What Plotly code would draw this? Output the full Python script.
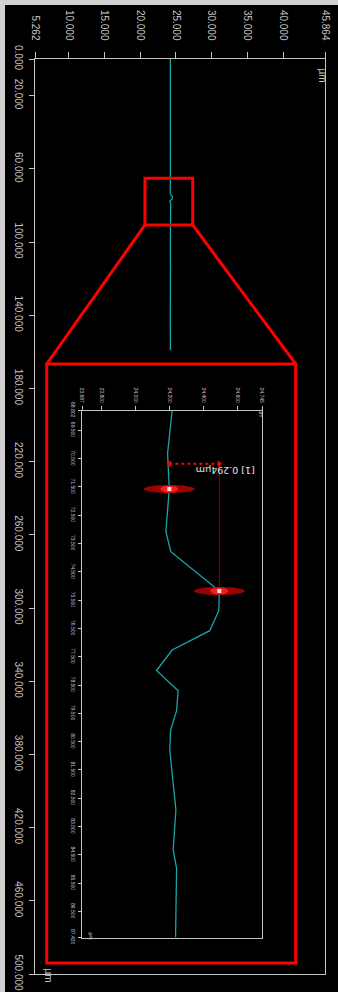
import plotly.graph_objects as go

W, H = 338, 992

# ---- full profile (position along the scan line, height) ----
inset_pos = [68.802, 70.314, 71.575, 73.084, 73.790, 75.179, 75.875, 76.581, 77.263,
             77.987, 78.701, 79.407, 80.089, 80.796, 82.916, 84.329, 84.975, 87.420]
inset_h = [24.217, 24.190, 24.200, 24.180, 24.209, 24.494, 24.491, 24.438, 24.217,
           24.125, 24.252, 24.243, 24.208, 24.203, 24.239, 24.223, 24.243, 24.237]

pre_pos = [0, 8, 16, 24, 32, 36, 40, 48, 56, 62, 66]
pre_h = [24.21, 24.22, 24.20, 24.22, 24.20, 24.24, 24.21, 24.22, 24.20, 24.21, 24.22]
post_pos = [90, 96, 104, 112, 120, 128, 136, 144, 152, 159]
post_h = [24.22, 24.20, 24.21, 24.23, 24.20, 24.22, 24.21, 24.20, 24.22, 24.21]

profile_pos = pre_pos + inset_pos + post_pos
profile_h = pre_h + inset_h + post_h

# main axes
main_h_range = [5.262, 45.864]
main_pos_range = [0.0, 500.0]
main_h_ticks = [5.262, 10, 15, 20, 25, 30, 35, 40, 45.864]
main_pos_ticks = [0, 20, 60, 100, 140, 180, 220, 260, 300, 340, 380, 420, 460, 500]

# zoomed axes
inset_h_range = [23.687, 24.745]
inset_pos_range = [68.802, 87.420]
inset_h_ticks = [23.687, 23.8, 24.0, 24.2, 24.4, 24.6, 24.745]
inset_pos_ticks = [68.802, 69.5, 70.5, 71.5, 72.5, 73.5, 74.5, 75.5, 76.5, 77.5,
                   78.5, 79.5, 80.5, 81.5, 82.5, 83.5, 84.5, 85.5, 86.5, 87.420]

# zoom window drawn on the main view
zoom_h = [20.66, 27.34]
zoom_pos = [65.2, 90.7]

# measurement cursors
cursor_pos = [71.575, 75.179]
cursor_h = [24.200, 24.494]
measure_line_pos = 70.685

GRAY = "#c4c4c4"
TEAL = "#19a5aa"
RED = "#ff0000"


def px(x):
    return x / W


def py(y):
    return 1 - y / H


main_x_dom = [px(35), px(325)]
main_y_dom = [py(974), py(59)]
ins_x_dom = [px(82), px(262)]
ins_y_dom = [py(937.5), py(410.5)]


def main_to_paper(h, p):
    fx = (h - main_h_range[0]) / (main_h_range[1] - main_h_range[0])
    fy = (p - main_pos_range[0]) / (main_pos_range[1] - main_pos_range[0])
    return (main_x_dom[0] + fx * (main_x_dom[1] - main_x_dom[0]),
            main_y_dom[1] - fy * (main_y_dom[1] - main_y_dom[0]))


fig = go.Figure()

fig.add_trace(go.Scatter(x=profile_h, y=profile_pos, mode="lines",
                         line=dict(color=TEAL, width=1.3), xaxis="x", yaxis="y",
                         hoverinfo="skip"))
fig.add_trace(go.Scatter(x=inset_h, y=inset_pos, mode="lines",
                         line=dict(color=TEAL, width=1.3), xaxis="x2", yaxis="y2",
                         hoverinfo="skip"))

# measurement: vertical guide from second cursor, dotted span with arrowheads
fig.add_trace(go.Scatter(x=[cursor_h[1], cursor_h[1]], y=[cursor_pos[1], measure_line_pos],
                         mode="lines", line=dict(color="#8a0000", width=1),
                         xaxis="x2", yaxis="y2", hoverinfo="skip"))
fig.add_trace(go.Scatter(x=cursor_h, y=[measure_line_pos] * 2, mode="lines",
                         line=dict(color=RED, width=2, dash="dot"),
                         xaxis="x2", yaxis="y2", hoverinfo="skip"))
fig.add_trace(go.Scatter(x=cursor_h, y=[measure_line_pos] * 2, mode="markers",
                         marker=dict(symbol=["triangle-left", "triangle-right"], size=6,
                                     color=RED, line=dict(width=0)),
                         xaxis="x2", yaxis="y2", hoverinfo="skip"))

shapes = []
# window frame strips
shapes.append(dict(type="rect", xref="paper", yref="paper", x0=0, x1=px(5), y0=0, y1=1,
                   fillcolor="#d0d0d0", line=dict(width=0), layer="below"))
shapes.append(dict(type="rect", xref="paper", yref="paper", x0=0, x1=1, y0=py(5), y1=1,
                   fillcolor="#d0d0d0", line=dict(width=0), layer="below"))

# zoom window on the main profile
zx0, zy0 = main_to_paper(zoom_h[0], zoom_pos[0])
zx1, zy1 = main_to_paper(zoom_h[1], zoom_pos[1])
shapes.append(dict(type="rect", xref="paper", yref="paper", x0=zx0, x1=zx1, y0=zy1, y1=zy0,
                   line=dict(color=RED, width=3)))
big = dict(x0=px(46.7), x1=px(295.7), y0=py(963), y1=py(364))
shapes.append(dict(type="rect", xref="paper", yref="paper", **big,
                   line=dict(color=RED, width=3)))
shapes.append(dict(type="line", xref="paper", yref="paper", x0=zx0, y0=zy1,
                   x1=big["x0"], y1=big["y1"], line=dict(color=RED, width=3)))
shapes.append(dict(type="line", xref="paper", yref="paper", x0=zx1, y0=zy1,
                   x1=big["x1"], y1=big["y1"], line=dict(color=RED, width=3)))

# cursor glows
for h, p in zip(cursor_h, cursor_pos):
    shapes.append(dict(type="circle", xref="x2", yref="y2", xsizemode="pixel",
                       ysizemode="pixel", xanchor=h, yanchor=p, x0=-25.5, x1=25.5,
                       y0=-4, y1=4, fillcolor="rgba(175,0,0,0.9)", line=dict(width=0)))
    shapes.append(dict(type="circle", xref="x2", yref="y2", xsizemode="pixel",
                       ysizemode="pixel", xanchor=h, yanchor=p, x0=-9, x1=9,
                       y0=-3.5, y1=3.5, fillcolor="rgba(255,30,30,0.95)", line=dict(width=0)))
    shapes.append(dict(type="rect", xref="x2", yref="y2", xsizemode="pixel",
                       ysizemode="pixel", xanchor=h, yanchor=p, x0=-2, x1=2,
                       y0=-2, y1=2, fillcolor="#e8e8e8", line=dict(width=0)))

diff = cursor_h[1] - cursor_h[0]
annotations = [
    dict(text=f"[1] {diff:.3f}µm", x=sum(cursor_h) / 2 + 0.18, y=measure_line_pos,
         xref="x2", yref="y2", yshift=-6.5, showarrow=False, textangle=180,
         font=dict(size=9.5, color="#e6e6e6", family="DejaVu Sans")),
    dict(text="µm", x=px(330), y=py(66), xref="paper", yref="paper", showarrow=False,
         textangle=90, font=dict(size=10, color=GRAY, family="Liberation Sans")),
    dict(text="µm", x=px(41), y=py(984), xref="paper", yref="paper", showarrow=False,
         textangle=90, font=dict(size=10, color=GRAY, family="Liberation Sans")),
    dict(text="µm", x=px(266), y=py(413), xref="paper", yref="paper", showarrow=False,
         textangle=90, font=dict(size=5, color=GRAY, family="Liberation Sans")),
    dict(text="µm", x=px(86), y=py(941), xref="paper", yref="paper", showarrow=False,
         textangle=90, font=dict(size=5, color=GRAY, family="Liberation Sans")),
]

axis_common = dict(showline=True, mirror=True, linecolor=GRAY, linewidth=1,
                   ticks="outside", tickcolor=GRAY, tickwidth=1, showgrid=False,
                   zeroline=False, tickangle=90, automargin=False)

fig.update_layout(
    width=W, height=H, margin=dict(l=0, r=0, t=0, b=0, pad=0, autoexpand=False),
    paper_bgcolor="#000000", plot_bgcolor="#000000", showlegend=False,
    xaxis=dict(domain=main_x_dom, range=main_h_range, side="top", anchor="y",
               tickvals=main_h_ticks, ticktext=[f"{v:.3f}" for v in main_h_ticks],
               ticklen=6, ticklabelstandoff=8,
               tickfont=dict(size=10, color=GRAY, family="Liberation Sans"), **axis_common),
    yaxis=dict(domain=main_y_dom, range=main_pos_range[::-1], anchor="x",
               tickvals=main_pos_ticks, ticktext=[f"{v:.3f}" for v in main_pos_ticks],
               ticklen=5, ticklabelstandoff=2,
               tickfont=dict(size=10, color=GRAY, family="Liberation Sans"), **axis_common),
    xaxis2=dict(domain=ins_x_dom, range=inset_h_range, side="top", anchor="y2",
                tickvals=inset_h_ticks, ticktext=[f"{v:.3f}" for v in inset_h_ticks],
                ticklen=4, ticklabelstandoff=1,
                tickfont=dict(size=5, color=GRAY, family="Liberation Sans"), **axis_common),
    yaxis2=dict(domain=ins_y_dom, range=inset_pos_range[::-1], anchor="x2",
                tickvals=inset_pos_ticks, ticktext=[f"{v:.3f}" for v in inset_pos_ticks],
                ticklen=3, ticklabelstandoff=1,
                tickfont=dict(size=5, color=GRAY, family="Liberation Sans"), **axis_common),
    shapes=shapes, annotations=annotations,
)

fig.write_html("out.html")
